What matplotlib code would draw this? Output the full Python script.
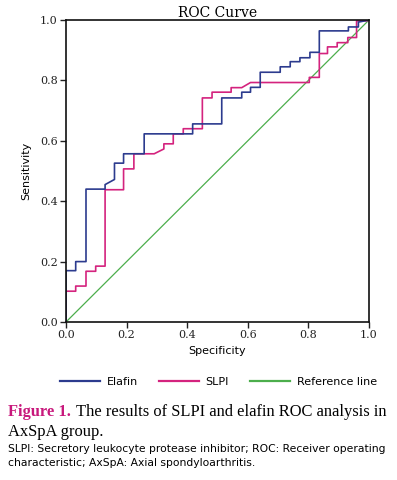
import matplotlib
matplotlib.use("Agg")
import matplotlib.pyplot as plt
from matplotlib.lines import Line2D

# step vertices
elafin_x = [0, 0, 0.032, 0.032, 0.066, 0.066, 0.129, 0.129, 0.16, 0.16, 0.19, 0.19,
            0.258, 0.258, 0.418, 0.418, 0.514, 0.514, 0.58, 0.58, 0.609, 0.609,
            0.641, 0.641, 0.707, 0.707, 0.74, 0.74, 0.772, 0.772, 0.805, 0.805,
            0.836, 0.836, 0.932, 0.932, 0.965, 0.965, 1.0]
elafin_y = [0, 0.17, 0.17, 0.20, 0.20, 0.44, 0.44, 0.455, 0.472, 0.526, 0.526, 0.557,
            0.557, 0.623, 0.623, 0.656, 0.656, 0.742, 0.742, 0.761, 0.761, 0.777,
            0.777, 0.827, 0.827, 0.845, 0.845, 0.862, 0.862, 0.875, 0.875, 0.893,
            0.893, 0.964, 0.964, 0.977, 0.977, 0.993, 1.0]

slpi_x = [0, 0, 0.032, 0.032, 0.066, 0.066, 0.098, 0.098, 0.129, 0.129, 0.19, 0.19,
          0.224, 0.224, 0.291, 0.323, 0.323, 0.354, 0.354, 0.387, 0.387, 0.45, 0.45,
          0.482, 0.482, 0.545, 0.545, 0.58, 0.609, 0.803, 0.803, 0.836, 0.836,
          0.863, 0.863, 0.895, 0.895, 0.93, 0.93, 0.959, 0.959, 0.992, 1.0]
slpi_y = [0, 0.102, 0.102, 0.119, 0.119, 0.168, 0.168, 0.185, 0.185, 0.438, 0.438, 0.507,
          0.507, 0.557, 0.557, 0.573, 0.59, 0.59, 0.623, 0.623, 0.64, 0.64, 0.742,
          0.742, 0.761, 0.761, 0.776, 0.776, 0.793, 0.793, 0.81, 0.81, 0.889,
          0.889, 0.911, 0.911, 0.925, 0.925, 0.942, 0.942, 0.997, 0.997, 1.0]

ref_x = [0, 1]
ref_y = [0, 1]

ticks = [0.0, 0.2, 0.4, 0.6, 0.8, 1.0]
tick_labels = ["0.0", "0.2", "0.4", "0.6", "0.8", "1.0"]

blue = "#2c3b8e"
pink = "#d4237e"
green = "#4cae4c"
magenta = "#c8187c"

fig = plt.figure(figsize=(3.97, 4.8), dpi=100)
ax = fig.add_axes([66 / 397, 1 - 322 / 480, 303 / 397, 302 / 480])

ax.plot(ref_x, ref_y, color=green, lw=0.9)
ax.plot(slpi_x, slpi_y, color=pink, lw=1.2)
ax.plot(elafin_x, elafin_y, color=blue, lw=1.2)

ax.set_xlim(0, 1)
ax.set_ylim(0, 1)
ax.set_xticks(ticks)
ax.set_xticklabels(tick_labels, family="DejaVu Serif", fontsize=8)
ax.set_yticks(ticks)
ax.set_yticklabels(tick_labels, family="DejaVu Serif", fontsize=8)
ax.tick_params(direction="out", length=4, width=1, pad=2, colors="#222222")
for s in ax.spines.values():
    s.set_linewidth(1.2)
    s.set_color("#111111")

ax.set_title("ROC Curve", family="DejaVu Serif", fontsize=10, pad=2)
ax.set_xlabel("Specificity", family="DejaVu Sans", fontsize=8, labelpad=4)
ax.set_ylabel("Sensitivity", family="DejaVu Sans", fontsize=8, labelpad=6)

handles = [Line2D([], [], color=blue, lw=1.6),
           Line2D([], [], color=pink, lw=1.6),
           Line2D([], [], color=green, lw=1.6)]
fig.legend(handles, ["Elafin", "SLPI", "Reference line"], loc="center",
           bbox_to_anchor=(0.55, 1 - 382 / 480), ncol=3, frameon=False,
           handlelength=3.6, handletextpad=0.6, columnspacing=1.9,
           prop={"family": "DejaVu Sans", "size": 8})

# caption, font size fitted so the lines span the column width (8..386 px)
fig.canvas.draw()
r = fig.canvas.get_renderer()
line_w = 378
cap_font = "Liberation Serif"

head = "Figure 1."
rest = "The results of SLPI and elafin ROC analysis in"
probe = fig.text(0, 0, head + "  " + rest, family=cap_font, fontsize=10)
cap_size = 10 * line_w / probe.get_window_extent(r).width
probe.remove()

fig.text(8 / 397, 1 - 412 / 480, head, color=magenta, weight="bold",
         family=cap_font, fontsize=cap_size, va="center")
fig.text(386 / 397, 1 - 412 / 480, rest, family=cap_font,
         fontsize=cap_size, va="center", ha="right")
fig.text(8 / 397, 1 - 432 / 480, "AxSpA group.", family=cap_font,
         fontsize=cap_size, va="center")

note1 = "SLPI: Secretory leukocyte protease inhibitor; ROC: Receiver operating"
probe = fig.text(0, 0, note1, family="DejaVu Sans", fontsize=7)
note_size = 7 * line_w / probe.get_window_extent(r).width
probe.remove()
fig.text(8 / 397, 1 - 449 / 480, note1, family="DejaVu Sans",
         fontsize=note_size, va="center")
fig.text(8 / 397, 1 - 463 / 480,
         "characteristic; AxSpA: Axial spondyloarthritis.",
         family="DejaVu Sans", fontsize=note_size, va="center")

fig.savefig("out.png", dpi=100)
